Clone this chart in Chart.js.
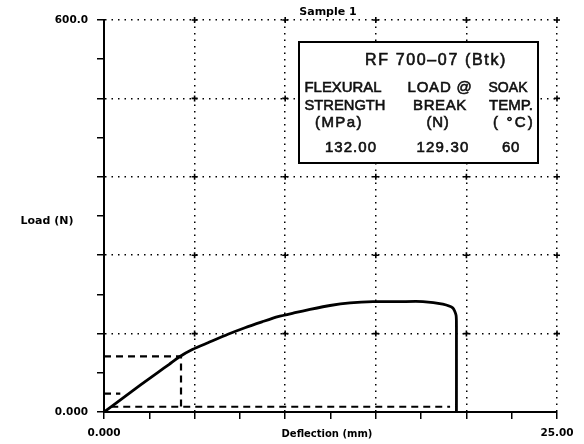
<!DOCTYPE html>
<html><head><meta charset="utf-8">
<script src="https://cdn.jsdelivr.net/npm/chart.js@4.4.1/dist/chart.umd.min.js"></script>
<style>html,body{margin:0;padding:0;background:#fff;}#wrap{width:584px;height:444px;position:relative;}</style>
</head><body><div id="wrap"><canvas id="c" width="584" height="444"></canvas></div>
<script>
// ---- data ----
const chartTitle = 'Sample 1';
const xAxisTitle = 'Deflection (mm)';
const yAxisTitle = 'Load (N)';
const xTickValues = [0, 25];
const xTickLabels = ['0.000', '25.00'];
const yTickValues = [0, 600];
const yTickLabels = ['0.000', '600.0'];

const curveDeflection = [0, 1.0, 2.0, 3.0, 3.6, 4.17, 4.9, 5.74, 6.84, 7.78, 8.72, 9.60, 10.54, 11.37, 12.47, 13.58, 14.85, 16.34, 17.6, 18.7, 19.26, 19.43, 19.45, 19.45];
const curveLoad       = [0, 20.5, 41, 61, 73, 84.6, 96, 106, 119, 129, 138, 146, 152, 157, 163, 167, 169, 169, 169, 165, 159, 148, 130, 0];

const markerRectDeflection = [0, 4.25, 4.25];
const markerRectLoad       = [85, 85, 8];
const baselineDeflection   = [0.4, 19.1];
const baselineLoad         = [8, 8];
const lowMarkDeflection    = [0, 0.9];
const lowMarkLoad          = [28, 28];

const boxTitle = 'RF 700\u201307 (Btk)';
const boxCol1 = ['FLEXURAL', 'STRENGTH', '(MPa)', '132.00'];
const boxCol2 = ['LOAD @', 'BREAK', '(N)', '129.30'];
const boxCol3 = ['SOAK', 'TEMP.', '( \u00B0C)', '60'];

// ---- build ----
const pts = (xs, ys) => xs.map((x, i) => ({x, y: ys[i]}));

const textFit = (ctx, s, cx, cy, w, stroke) => {
  ctx.letterSpacing = '0px';
  const m = ctx.measureText(s).width;
  const n = s.length;
  let drawX = cx, align = 'center', maxW = w;
  if (m < w && n > 1) {
    ctx.letterSpacing = ((w - m) / n) + 'px';
    align = 'left'; drawX = cx - w / 2; maxW = undefined;
  }
  ctx.textAlign = align;
  if (maxW) { ctx.fillText(s, drawX, cy, maxW); if (stroke) ctx.strokeText(s, drawX, cy, maxW); }
  else { ctx.fillText(s, drawX, cy); if (stroke) ctx.strokeText(s, drawX, cy); }
  ctx.letterSpacing = '0px';
};

const decor = {
  id: 'decor',
  afterDraw(chart) {
    const {ctx, scales: {x, y}} = chart;
    ctx.save();
    ctx.fillStyle = '#000';
    ctx.strokeStyle = '#000';
    ctx.textBaseline = 'middle';
    // grid crosses
    ctx.lineWidth = 1.6;
    for (let gx = 5; gx <= 25; gx += 5) {
      for (let gy = 120; gy <= 600; gy += 120) {
        const px = x.getPixelForValue(gx), py = y.getPixelForValue(gy);
        ctx.beginPath();
        ctx.moveTo(px - 3, py); ctx.lineTo(px + 3, py);
        ctx.moveTo(px, py - 3); ctx.lineTo(px, py + 3);
        ctx.stroke();
      }
    }
    // tick labels
    ctx.font = 'bold 10.5px "DejaVu Sans"';
    ctx.textAlign = 'right';
    yTickValues.forEach((v, i) => ctx.fillText(yTickLabels[i], x.left - 16, y.getPixelForValue(v)));
    ctx.textAlign = 'center';
    xTickValues.forEach((v, i) => ctx.fillText(xTickLabels[i], x.getPixelForValue(v), y.bottom + 21));
    // titles
    ctx.font = 'bold 11px "DejaVu Sans"';
    ctx.fillText(chartTitle, 328, 12);
    ctx.fillText(yAxisTitle, 47, 221);
    ctx.font = 'bold 10px "DejaVu Sans"';
    ctx.fillText(xAxisTitle, 327, y.bottom + 22);
    // info box
    const bx = 299, by = 42, bw = 239, bh = 121;
    ctx.fillStyle = '#fff';
    ctx.fillRect(bx, by, bw, bh);
    ctx.lineWidth = 2;
    ctx.strokeRect(bx, by, bw, bh);
    ctx.fillStyle = '#111';
    ctx.strokeStyle = '#111';
    ctx.lineWidth = 0.6;
    ctx.font = '16px "Liberation Sans"';
    textFit(ctx, boxTitle, 436, 61, 142, true);
    ctx.font = '15px "Liberation Sans"';
    const rows = [88, 106, 123, 148];
    const c1 = [[343, 77], [345, 81], [339, 48], [351, 52]];
    const c2 = [[440, 65], [440, 54], [438, 23], [443, 53]];
    const c3 = [[508, 39], [511, 44], [514, 42], [511, 18]];
    boxCol1.forEach((s, i) => textFit(ctx, s, c1[i][0], rows[i], c1[i][1], true));
    boxCol2.forEach((s, i) => textFit(ctx, s, c2[i][0], rows[i], c2[i][1], true));
    boxCol3.forEach((s, i) => textFit(ctx, s, c3[i][0], rows[i], c3[i][1], true));
    ctx.restore();
  }
};

const dashed = (data) => ({
  data, showLine: true, borderColor: '#000', borderWidth: 2.2, borderDash: [7, 5],
  pointRadius: 0, tension: 0, fill: false
});

new Chart(document.getElementById('c'), {
  type: 'scatter',
  data: {
    datasets: [
      {
        data: pts(curveDeflection, curveLoad), showLine: true, borderColor: '#000',
        borderWidth: 2.8, pointRadius: 0, tension: 0.2, fill: false
      },
      dashed(pts(markerRectDeflection, markerRectLoad)),
      dashed(pts(baselineDeflection, baselineLoad)),
      dashed(pts(lowMarkDeflection, lowMarkLoad))
    ]
  },
  options: {
    responsive: false,
    animation: false,
    devicePixelRatio: 1,
    layout: {padding: {left: 97, right: 27, top: 20, bottom: 25}},
    plugins: {legend: {display: false}, tooltip: {enabled: false}},
    scales: {
      x: {
        type: 'linear', min: 0, max: 25,
        afterFit: s => { s.height = 7; },
        ticks: {stepSize: 2.5, autoSkip: false, display: false},
        grid: {
          color: c => (c.tick && c.tick.value % 5 === 0 && c.tick.value !== 0) ? '#000' : 'rgba(0,0,0,0)',
          lineWidth: 1.5, tickColor: '#000', tickLength: 7, tickWidth: 1.5, drawTicks: true
        },
        border: {display: true, color: '#000', width: 2, dash: [1.5, 5]}
      },
      y: {
        type: 'linear', min: 0, max: 600,
        afterFit: s => { s.width = 7; },
        ticks: {stepSize: 60, autoSkip: false, display: false},
        grid: {
          color: c => (c.tick && c.tick.value % 120 === 0 && c.tick.value !== 0) ? '#000' : 'rgba(0,0,0,0)',
          lineWidth: 1.5, tickColor: '#000', tickLength: 7, tickWidth: 1.5, drawTicks: true
        },
        border: {display: true, color: '#000', width: 2, dash: [1.5, 5]}
      }
    }
  },
  plugins: [decor]
});
</script></body></html>
